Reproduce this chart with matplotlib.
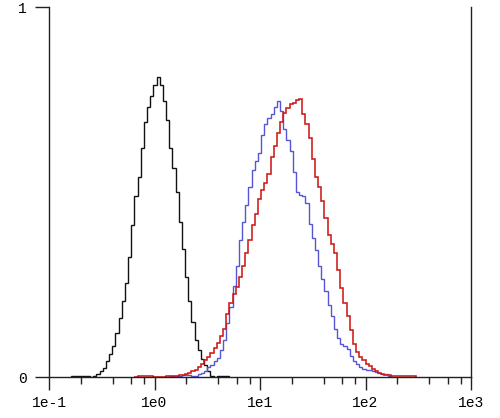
import numpy as np
import matplotlib
matplotlib.use("Agg")
import matplotlib.pyplot as plt
from matplotlib.ticker import LogLocator, FixedLocator

# histogram channels: 0.03 decade per channel, channel 0 starts at 0.1
decade_per_channel = 0.03

black_start = 7
black_counts = [
    0.003, 0.003, 0.003, 0.003, 0.003, 0.003, 0.000, 0.004, 0.008, 0.015,
    0.025, 0.042, 0.063, 0.083, 0.120, 0.160, 0.205, 0.255, 0.325, 0.410,
    0.490, 0.542, 0.620, 0.690, 0.730, 0.760, 0.790, 0.812, 0.790, 0.745,
    0.695, 0.620, 0.565, 0.500, 0.420, 0.345, 0.270, 0.205, 0.150, 0.100,
    0.072, 0.048, 0.032, 0.016, 0.004, 0.000, 0.003, 0.003, 0.003, 0.003,
]

blue_start = 38
blue_counts = [
    0.003, 0.003, 0.004, 0.004, 0.005, 0.005, 0.005, 0.004, 0.004, 0.007,
    0.010, 0.017, 0.026, 0.032, 0.042, 0.052, 0.072, 0.100, 0.145, 0.190,
    0.245, 0.300, 0.370, 0.420, 0.465, 0.515, 0.560, 0.585, 0.606, 0.655,
    0.685, 0.700, 0.710, 0.730, 0.746, 0.720, 0.670, 0.640, 0.610, 0.555,
    0.500, 0.493, 0.490, 0.470, 0.415, 0.375, 0.344, 0.300, 0.265, 0.232,
    0.195, 0.165, 0.130, 0.105, 0.088, 0.083, 0.075, 0.056, 0.043, 0.034,
    0.026, 0.021, 0.019, 0.018, 0.015, 0.013, 0.011, 0.009, 0.008, 0.004,
]

red_start = 27
red_counts = [
    0.000, 0.003, 0.003, 0.003, 0.003, 0.003, 0.000, 0.000, 0.000, 0.000,
    0.003, 0.003, 0.003, 0.004, 0.005, 0.006, 0.008, 0.011, 0.015, 0.019,
    0.027, 0.036, 0.045, 0.055, 0.065, 0.078, 0.092, 0.110, 0.130, 0.170,
    0.200, 0.225, 0.243, 0.270, 0.300, 0.335, 0.370, 0.412, 0.440, 0.480,
    0.505, 0.525, 0.550, 0.595, 0.625, 0.660, 0.690, 0.715, 0.728, 0.737,
    0.740, 0.748, 0.752, 0.712, 0.685, 0.645, 0.590, 0.542, 0.515, 0.475,
    0.430, 0.385, 0.360, 0.335, 0.290, 0.240, 0.200, 0.165, 0.128, 0.090,
    0.068, 0.055, 0.045, 0.036, 0.030, 0.022, 0.015, 0.010, 0.008, 0.006,
    0.005, 0.004, 0.003, 0.003, 0.003, 0.003, 0.003, 0.003, 0.003,
]

x_ticks = [0.1, 1, 10, 100, 1000]
x_labels = ["1e-1", "1e0", "1e1", "1e2", "1e3"]
y_ticks = [0, 1]
y_labels = ["0", "1"]


def channel_edges(start, n):
    ch = np.arange(start, start + n + 1)
    return 10 ** (-1 + decade_per_channel * ch)


plt.rcParams["font.family"] = ["Liberation Mono", "DejaVu Sans Mono"]
plt.rcParams["font.size"] = 10.5

fig = plt.figure(figsize=(5.0, 4.18), dpi=100)
ax = fig.add_axes([0.098, 0.098, 0.844, 0.885])

ax.stairs(black_counts, channel_edges(black_start, len(black_counts)),
          baseline=0, color="#111111", lw=1.0)
ax.stairs(blue_counts, channel_edges(blue_start, len(blue_counts)),
          baseline=0, color="#5555d5", lw=1.0)
ax.stairs(red_counts, channel_edges(red_start, len(red_counts)),
          baseline=0, color="#d01818", lw=1.15)

ax.set_xscale("log")
ax.set_xlim(0.1, 1000)
ax.set_ylim(0, 1)

ax.xaxis.set_major_locator(FixedLocator(x_ticks))
ax.set_xticklabels(x_labels)
ax.xaxis.set_minor_locator(LogLocator(base=10, subs=[2, 4, 6, 8]))
ax.xaxis.set_minor_formatter(plt.NullFormatter())
ax.set_yticks(y_ticks)
ax.set_yticklabels(y_labels)

ax.spines["top"].set_visible(False)
for s in ["left", "right", "bottom"]:
    ax.spines[s].set_linewidth(1.0)
    ax.spines[s].set_color("#222222")

ax.tick_params(axis="x", which="major", direction="out", length=9, width=1.0,
               color="#222222", pad=5)
ax.tick_params(axis="x", which="minor", direction="out", length=5, width=1.0,
               color="#222222")
ax.tick_params(axis="y", which="major", direction="out", length=10, width=1.0,
               color="#222222", pad=6)
ax.tick_params(axis="y", which="minor", left=False)

fig.savefig("out.png", dpi=100)
